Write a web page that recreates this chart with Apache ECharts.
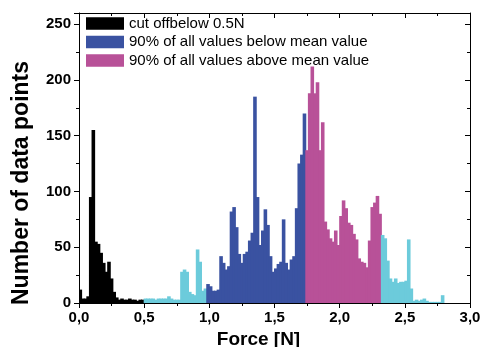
<!DOCTYPE html>
<html>
<head>
<meta charset="utf-8">
<script src="https://cdn.jsdelivr.net/npm/echarts@6/dist/echarts.min.js"></script>
<style>
  html, body { margin: 0; padding: 0; background: #fff; }
  #chart { width: 487px; height: 347px; }
</style>
</head>
<body>
<div id="chart"></div>
<script>
// histogram counts, bins of 0.02 N starting at 0.00
var cutoffCounts = [12, 4, 4, 6, 95, 155, 55, 53, 45, 36, 28, 37, 22, 10, 5,
    3, 4, 3, 3, 4, 3, 3, 2, 3, 3];
var lowRestCounts = [4, 4, 4, 4, 3, 4, 4, 4, 4, 6, 4, 3, 3, 3, 28, 30, 28, 10,
    8, 7, 48, 37, 11, 13];
var belowMeanCounts = [17, 15, 11, 11, 12, 42, 36, 30, 33, 82, 86, 68, 44, 36,
    44, 46, 56, 63, 185, 95, 52, 65, 84, 70, 42, 28, 31, 35, 37, 75, 36, 30,
    39, 42, 85, 125, 133, 170];
var aboveMeanCounts = [137, 188, 212, 188, 198, 137, 162, 73, 66, 58, 55, 65,
    52, 78, 92, 85, 72, 70, 62, 57, 40, 37, 36, 32, 56, 86, 90, 96, 80];
var highRestCounts = [61, 58, 38, 22, 19, 22, 18, 19, 19, 20, 57, 13, 2, 3, 2,
    3, 4, 2, 1, 1, 1, 1, 1, 7, 0, 0, 0, 0, 0, 0, 0, 0, 0, 0];

var xTickLabels = ['0,0', '0,5', '1,0', '1,5', '2,0', '2,5', '3,0'];
var seriesNames = [
    'cut offbelow 0.5N',
    '90% of all values below mean value',
    '90% of all values above mean value'
];

var font = "'Liberation Sans', Arial, sans-serif";

// lay the segments out along the common list of bins
var segments = [cutoffCounts, lowRestCounts, belowMeanCounts, aboveMeanCounts, highRestCounts];
var binLabels = [];
var segData = [];
var nBins = 0;
segments.forEach(function (s) { nBins += s.length; });
for (var i = 0; i < nBins; i++) {
    binLabels.push((i * 0.02).toFixed(2));
}
var start = 0;
segments.forEach(function (s) {
    var arr = [];
    for (var i = 0; i < nBins; i++) {
        arr.push(i >= start && i < start + s.length ? s[i - start] : '-');
    }
    segData.push(arr);
    start += s.length;
});

var colors = ['#000000', '#6ccbdb', '#3a52a1', '#b85198', '#6ccbdb'];
var names = [seriesNames[0], 'rest low', seriesNames[1], seriesNames[2], 'rest high'];

var series = segData.map(function (d, k) {
    return {
        type: 'bar',
        name: names[k],
        data: d,
        xAxisIndex: 0,
        yAxisIndex: 0,
        barGap: '-100%',
        barWidth: 3.6,
        itemStyle: { color: colors[k], borderWidth: 0 },
        silent: true
    };
});

var chart = echarts.init(document.getElementById('chart'));

var black = { color: '#000', width: 1 };

chart.setOption({
    animation: false,
    grid: { left: 79, right: 17, top: 13, bottom: 44, outerBoundsMode: 'none' },
    legend: {
        data: seriesNames,
        orient: 'vertical',
        left: 86,
        top: 16,
        padding: 0,
        itemWidth: 38,
        itemHeight: 12.6,
        itemGap: 3.5,
        icon: 'rect',
        textStyle: { fontFamily: font, fontSize: 15, color: '#000' }
    },
    xAxis: [{
        type: 'category',
        data: binLabels,
        show: false,
        position: 'bottom'
    }, {
        type: 'value',
        position: 'bottom',
        min: 0,
        max: 3,
        interval: 0.5,
        axisLine: { onZero: false, lineStyle: black },
        axisTick: { length: 5, lineStyle: black },
        minorTick: { show: true, splitNumber: 2, length: 3, lineStyle: black },
        splitLine: { show: false },
        axisLabel: {
            margin: 7,
            fontFamily: font,
            fontSize: 15,
            fontWeight: 'bold',
            color: '#000',
            formatter: function (v) { return xTickLabels[Math.round(v / 0.5)]; }
        },
        name: 'Force [N]',
        nameLocation: 'middle',
        nameGap: 24,
        nameTextStyle: {
            fontFamily: font,
            fontSize: 19,
            fontWeight: 'bold',
            color: '#000',
            padding: [0, 32, 0, 0]
        }
    }, {
        type: 'value',
        position: 'top',
        min: 0,
        max: 3,
        interval: 0.5,
        axisLine: { onZero: false, lineStyle: black },
        axisTick: { inside: true, length: 5, lineStyle: black },
        minorTick: { show: true, splitNumber: 2, length: 3, lineStyle: black },
        splitLine: { show: false },
        axisLabel: { show: false }
    }],
    yAxis: [{
        type: 'value',
        position: 'left',
        min: 0,
        max: 260,
        interval: 50,
        axisLine: { show: true, onZero: false, lineStyle: black },
        axisTick: { show: true, length: 5, lineStyle: black },
        minorTick: { show: true, splitNumber: 2, length: 3, lineStyle: black },
        splitLine: { show: false },
        axisLabel: {
            margin: 8,
            showMaxLabel: false,
            fontFamily: font,
            fontSize: 15,
            fontWeight: 'bold',
            color: '#000'
        },
        name: 'Number of data points',
        nameLocation: 'middle',
        nameGap: 46,
        nameTextStyle: {
            fontFamily: font,
            fontSize: 23,
            fontWeight: 'bold',
            color: '#000',
            padding: [0, 50, 0, 0]
        }
    }, {
        type: 'value',
        position: 'right',
        min: 0,
        max: 260,
        interval: 50,
        axisLine: { show: true, onZero: false, lineStyle: black },
        axisTick: { show: true, inside: true, length: 5, lineStyle: black },
        minorTick: { show: true, splitNumber: 2, length: 3, lineStyle: black },
        splitLine: { show: false },
        axisLabel: { show: false }
    }],
    series: series
});
</script>
</body>
</html>
